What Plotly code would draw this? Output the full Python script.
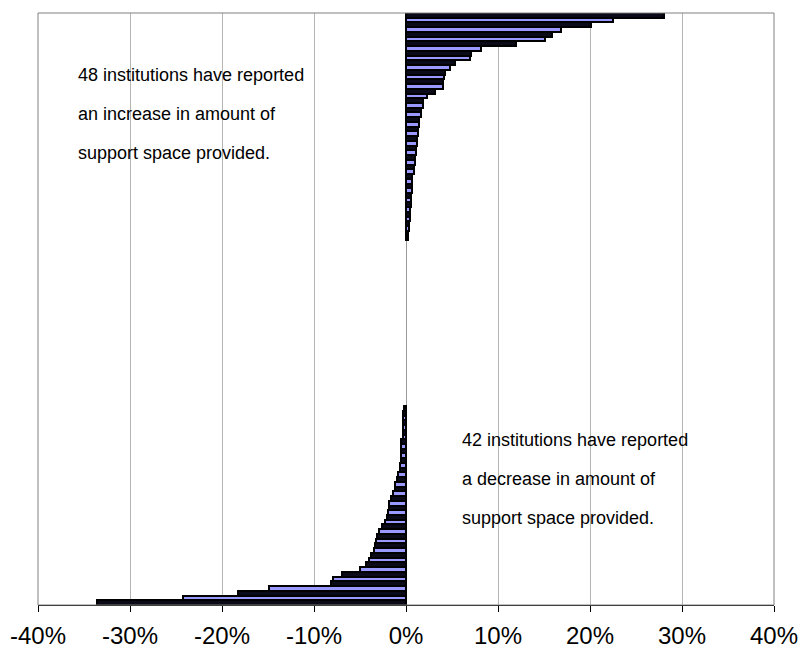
import plotly.graph_objects as go

# Percentage change in support space per institution, largest increase first
increase = [28.0, 22.5, 20.1, 16.8, 15.9, 15.1, 12.0, 8.15, 7.1, 7.0, 5.3, 4.8, 4.2, 4.1, 4.0,
            4.0, 3.1, 2.25, 1.9, 1.9, 1.6, 1.6, 1.4, 1.4, 1.35, 1.35, 1.15, 1.15, 1.1, 1.1,
            1.0, 1.0, 0.9, 0.9, 0.7, 0.7, 0.7, 0.65, 0.5, 0.5, 0.5, 0.45, 0.45, 0.4, 0.35,
            0.3, 0.25, 0.2]
no_change = [0.0] * 35
decrease = [-0.2, -0.3, -0.3, -0.3, -0.3, -0.3, -0.3, -0.5, -0.5, -0.5, -0.5, -0.5,
            -0.65, -0.7, -0.85, -0.95, -1.15, -1.15, -1.4, -1.6, -1.8, -1.8, -2.0, -2.1,
            -2.3, -2.6, -2.9, -3.1, -3.3, -3.4, -3.5, -3.8, -4.0, -4.4, -5.0, -7.0, -7.9,
            -8.1, -14.9, -18.3, -24.2, -33.6]

x_ticks = [-40, -30, -20, -10, 0, 10, 20, 30, 40]
x_tick_labels = ["-40%", "-30%", "-20%", "-10%", "0%", "10%", "20%", "30%", "40%"]

increase_note = ["48 institutions have reported", "an increase in amount of",
                 "support space provided."]
decrease_note = ["42 institutions have reported", "a decrease in amount of",
                 "support space provided."]

values = increase + no_change + decrease
institutions = list(range(1, len(values) + 1))
colors = ["#0a0a18" if i % 2 == 0 else "#9999FF" for i in range(len(values))]
# no outline on zero-length bars so the axis stays a thin grey line there
outline_widths = [2 if v != 0 else 0 for v in values]

fig = go.Figure(go.Bar(
    x=values,
    y=institutions,
    orientation="h",
    marker=dict(color=colors, line=dict(color="#000000", width=outline_widths)),
    hoverinfo="x",
))

FONT = "Liberation Sans, Arial, sans-serif"

annotations = []
for k, line in enumerate(increase_note):
    annotations.append(dict(text=line, xref="paper", yref="paper",
                            x=0.0516, y=0.8953 - k * 0.0659,
                            xanchor="left", yanchor="middle", showarrow=False,
                            font=dict(family=FONT, size=18, color="#000000")))
for k, line in enumerate(decrease_note):
    annotations.append(dict(text=line, xref="paper", yref="paper",
                            x=0.5734, y=0.2787 - k * 0.0659,
                            xanchor="left", yanchor="middle", showarrow=False,
                            font=dict(family=FONT, size=18, color="#000000")))

fig.update_layout(
    width=802, height=652,
    margin=dict(l=38, r=28, t=13, b=47),
    paper_bgcolor="#ffffff", plot_bgcolor="#ffffff",
    bargap=0,
    showlegend=False,
    annotations=annotations,
    shapes=[dict(type="rect", xref="paper", yref="paper", x0=0, y0=0, x1=1, y1=1,
                 line=dict(color="#808080", width=1), layer="above")],
    xaxis=dict(
        range=[-40, 40], tickvals=x_ticks, ticktext=x_tick_labels,
        automargin=False,
        showgrid=True, gridcolor="#b5b5b5", gridwidth=1,
        zeroline=True, zerolinecolor="#9a9a9a", zerolinewidth=1,
        showline=True, linecolor="#000000", linewidth=1,
        ticks="outside", ticklen=6, tickcolor="#000000",
        ticklabelstandoff=3,
        tickfont=dict(family=FONT, size=24, color="#000000"),
        fixedrange=True,
    ),
    yaxis=dict(
        range=[len(values) + 0.5, 0.5],
        automargin=False,
        showticklabels=False, showgrid=False, zeroline=False, ticks="",
        fixedrange=True,
    ),
)

fig.write_html("out.html")
